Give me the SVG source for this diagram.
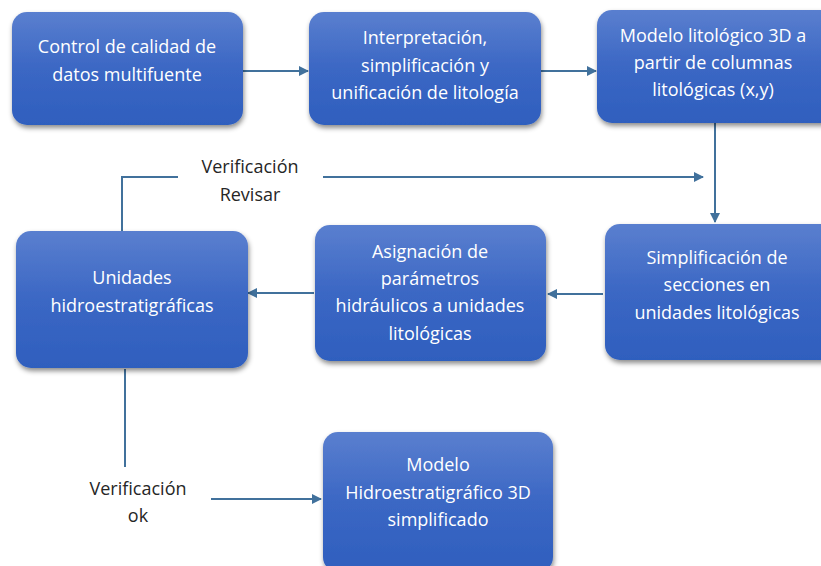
<svg xmlns="http://www.w3.org/2000/svg" width="821" height="566" viewBox="0 0 821 566">
<defs>
<linearGradient id="g" x1="0" y1="0" x2="0" y2="1">
<stop offset="0" stop-color="#5a7fcf"/>
<stop offset="0.5" stop-color="#3b67c4"/>
<stop offset="1" stop-color="#2f5fbe"/>
</linearGradient>
<filter id="sh" x="-10%" y="-10%" width="125%" height="130%">
<feDropShadow dx="1" dy="3" stdDeviation="2.5" flood-color="#000" flood-opacity="0.45"/>
</filter>
<marker id="ah" markerWidth="10" markerHeight="10" refX="9" refY="5" orient="auto" markerUnits="userSpaceOnUse">
<path d="M0,0 L10,5 L0,10 Z" fill="#41719c"/>
</marker>
</defs>
<style>
.box{fill:url(#g);filter:url(#sh);}
.t{font-family:"Open Sans",Lato,"Liberation Sans",sans-serif;font-size:18px;fill:#fff;text-anchor:middle;}
.l{font-family:"Open Sans",Lato,"Liberation Sans",sans-serif;font-size:18px;fill:#262626;text-anchor:middle;}
.c{stroke:#41719c;stroke-width:2;fill:none;}
</style>
<rect width="821" height="566" fill="#fff"/>
<g id="connectors">
<line class="c" x1="243" y1="71" x2="308" y2="71" marker-end="url(#ah)"/>
<line class="c" x1="541" y1="71" x2="596" y2="71" marker-end="url(#ah)"/>
<line class="c" x1="715" y1="123" x2="715" y2="222" marker-end="url(#ah)"/>
<polyline class="c" points="122,231 122,177 178,177"/>
<line class="c" x1="323" y1="177" x2="703" y2="177" marker-end="url(#ah)"/>
<line class="c" x1="603" y1="294" x2="548" y2="294" marker-end="url(#ah)"/>
<line class="c" x1="314" y1="293" x2="248" y2="293" marker-end="url(#ah)"/>
<line class="c" x1="125" y1="369" x2="125" y2="467"/>
<line class="c" x1="211" y1="499" x2="321" y2="499" marker-end="url(#ah)"/>
</g>
<g id="n1"><rect class="box" x="12" y="12" width="231" height="113" rx="15"/>
<text class="t" x="127" y="53">Control de calidad de</text>
<text class="t" x="127" y="81">datos multifuente</text></g>
<g id="n2"><rect class="box" x="309" y="12" width="232" height="113" rx="15"/>
<text class="t" x="425" y="44">Interpretación,</text>
<text class="t" x="425" y="72">simplificación y</text>
<text class="t" x="425" y="99">unificación de litología</text></g>
<g id="n3"><rect class="box" x="597" y="10" width="240" height="113" rx="15"/>
<text class="t" x="713" y="42">Modelo litológico 3D a</text>
<text class="t" x="713" y="69">partir de columnas</text>
<text class="t" x="713" y="96">litológicas (x,y)</text></g>
<g id="n4"><rect class="box" x="605" y="224" width="232" height="136" rx="15"/>
<text class="t" x="717" y="264">Simplificación de</text>
<text class="t" x="717" y="291">secciones en</text>
<text class="t" x="717" y="319">unidades litológicas</text></g>
<g id="n5"><rect class="box" x="315" y="225" width="231" height="136" rx="15"/>
<text class="t" x="430" y="258">Asignación de</text>
<text class="t" x="430" y="285">parámetros</text>
<text class="t" x="430" y="312">hidráulicos a unidades</text>
<text class="t" x="430" y="340">litológicas</text></g>
<g id="n6"><rect class="box" x="16" y="231" width="232" height="137" rx="15"/>
<text class="t" x="132" y="284">Unidades</text>
<text class="t" x="132" y="312">hidroestratigráficas</text></g>
<g id="n7"><rect class="box" x="323" y="432" width="230" height="140" rx="15"/>
<text class="t" x="438" y="471">Modelo</text>
<text class="t" x="438" y="499">Hidroestratigráfico 3D</text>
<text class="t" x="438" y="526">simplificado</text></g>
<g id="labels">
<text class="l" x="250" y="173">Verificación</text>
<text class="l" x="250" y="201">Revisar</text>
<text class="l" x="138" y="495">Verificación</text>
<text class="l" x="138" y="522">ok</text>
</g>
</svg>
